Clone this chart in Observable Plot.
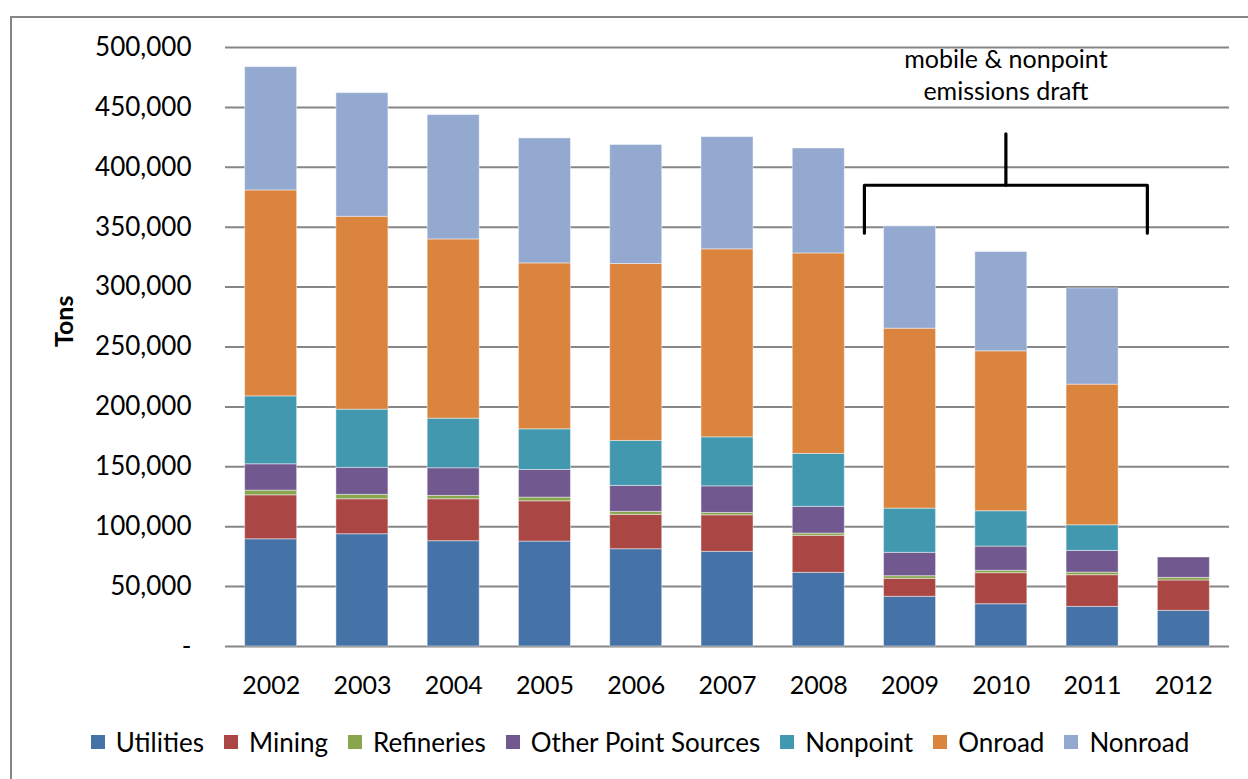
<!DOCTYPE html>
<html><head><meta charset="utf-8">
<script src="https://cdn.jsdelivr.net/npm/d3@7"></script>
<script src="https://cdn.jsdelivr.net/npm/@observablehq/plot@0.6"></script>
<style>
html,body{margin:0;padding:0;background:#fff;overflow:hidden;width:1248px;height:779px;}
body{font-family:Lato,sans-serif;}
#frame{position:absolute;left:10px;top:16px;width:1300px;height:900px;border-left:2px solid #868686;border-top:2px solid #868686;box-sizing:border-box;}
#chart{position:absolute;left:0;top:0;}
#legend{position:absolute;left:0;top:725px;width:1300px;display:flex;justify-content:center;}
.lg-swatch{margin-right:20px !important;font-size:26px;font-family:Lato,sans-serif;color:#000;}
.lg-swatch svg{margin-right:11px !important;}
</style></head><body>
<div id="frame"></div>
<div id="chart"></div>
<div id="legend"></div>
<script>
const years = [2002, 2003, 2004, 2005, 2006, 2007, 2008, 2009, 2010, 2011, 2012];
const categories = ["Utilities", "Mining", "Refineries", "Other Point Sources", "Nonpoint", "Onroad", "Nonroad"];
const colors = ["#4572A7", "#AA4643", "#89A54E", "#71588F", "#4198AF", "#DB843D", "#93A9CF"];
const utilities  = [89500, 93700, 87900, 87600, 81200, 79000, 61500, 41500, 35300, 33100, 29800];
const mining     = [36700, 29200, 35000, 33600, 28700, 30500, 30900, 15000, 25900, 26400, 25300];
const refineries = [3900, 3700, 2800, 3100, 2500, 2000, 1900, 2200, 2000, 2200, 2200];
const otherPoint = [22000, 22500, 23100, 23100, 21700, 22200, 22300, 19500, 20200, 18100, 17000];
const nonpoint   = [56700, 48600, 41400, 33900, 37500, 40900, 44200, 36900, 29500, 21400, 0];
const onroad     = [171900, 161000, 149600, 138500, 147700, 156900, 167300, 150200, 133500, 117400, 0];
const nonroad    = [102900, 103200, 103800, 104300, 99300, 93700, 87600, 85400, 82900, 80300, 0];
const yTicks = [0, 50000, 100000, 150000, 200000, 250000, 300000, 350000, 400000, 450000, 500000];
const yLabel = "Tons";
const noteLines = ["mobile & nonpoint", "emissions draft"];
// bracket annotation spanning the draft years 2009–2011 (in year / tons units)
const bracketYears = [2008.5, 2011.6];
const bracketTons = {foot: 345000, bar: 385000, stem: 428000, note: 478000};

const series = [utilities, mining, refineries, otherPoint, nonpoint, onroad, nonroad];
const rows = [];
categories.forEach((c, ci) => years.forEach((y, yi) => rows.push({year: y, category: c, value: series[ci][yi]})));

const half = 0.285;
const stemX = (bracketYears[0] + bracketYears[1]) / 2;
const bracket = [
  {x: bracketYears[0], y: bracketTons.foot},
  {x: bracketYears[0], y: bracketTons.bar},
  {x: bracketYears[1], y: bracketTons.bar},
  {x: bracketYears[1], y: bracketTons.foot}
];
const stem = [{x: stemX, y: bracketTons.bar}, {x: stemX, y: bracketTons.stem}];

const fmt = d3.format(",");
const chart = Plot.plot({
  width: 1248, height: 712,
  marginLeft: 225, marginRight: 19, marginTop: 47, marginBottom: 66,
  style: {fontFamily: "Lato, sans-serif", fontSize: "25px", color: "#000", background: "transparent"},
  x: {domain: [2001.5, 2012.5]},
  y: {domain: [0, 500000]},
  color: {domain: categories, range: colors},
  marks: [
    Plot.gridY(yTicks, {stroke: "#868686", strokeOpacity: 1, strokeWidth: 2}),
    Plot.rectY(rows, {x1: d => d.year - half, x2: d => d.year + half, y: "value", fill: "category", order: categories, stroke: "#fff", strokeOpacity: 0.45, strokeWidth: 1}),
    Plot.axisX(years, {tickSize: 0, tickPadding: 30, tickFormat: d => String(d), fontSize: 25, label: null}),
    Plot.axisY(yTicks, {tickSize: 0, tickPadding: 34, tickFormat: d => d === 0 ? "-" : fmt(d), fontSize: 26, label: null}),
    Plot.text([yLabel], {frameAnchor: "left", text: d => d, rotate: -90, dx: -161, fontWeight: "bold", fontSize: 25, lineAnchor: "middle"}),
    Plot.line(bracket, {x: "x", y: "y", stroke: "#000", strokeWidth: 3.2}),
    Plot.line(stem, {x: "x", y: "y", stroke: "#000", strokeWidth: 3.2}),
    Plot.text([noteLines.join("\n")], {x: stemX, y: bracketTons.note, text: d => d, fontSize: 25, lineHeight: 1.28, lineAnchor: "middle"})
  ]
});
document.getElementById("chart").appendChild(chart);

const legend = Plot.legend({color: {domain: categories, range: colors}, swatchSize: 14, className: "lg", style: {fontSize: "26px", fontFamily: "Lato, sans-serif"}});
document.getElementById("legend").appendChild(legend);
</script>
</body></html>
